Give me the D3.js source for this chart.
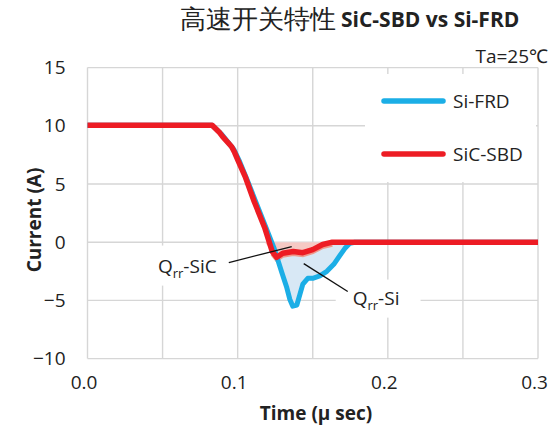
<!DOCTYPE html>
<html>
<head>
<meta charset="utf-8">
<script src="https://cdn.jsdelivr.net/npm/d3@7"></script>
<style>
  html, body { margin: 0; padding: 0; background: #fff; }
  svg { display: block; }
  text { font-family: "Open Sans", "Noto Sans", sans-serif; fill: #222; }
</style>
</head>
<body>
<svg id="chart" width="554" height="431"></svg>
<script>
// ---- data ----
const titleCJK = "高速开关特性";
const titleLatin = "SiC-SBD vs Si-FRD";
const tempLabel = "Ta=25℃";
const seriesNames = ["Si-FRD", "SiC-SBD"];
const xTickValues = [0.0, 0.1, 0.2, 0.3];
const xGridValues = [0, 0.05, 0.1, 0.15, 0.2, 0.25, 0.3];
const yTickValues = [-10, -5, 0, 5, 10, 15];
const xTitle = "Time (μ sec)";
const yTitle = "Current (A)";

// Si-FRD (blue)
const frdTime    = [0, 0.083, 0.0895, 0.0975, 0.1014, 0.1068, 0.1128, 0.1194, 0.1241, 0.1267, 0.1294, 0.1327, 0.1347, 0.1367, 0.1394, 0.1414, 0.1434, 0.1467, 0.150, 0.1547, 0.1594, 0.164, 0.168, 0.1713, 0.1747, 0.178, 0.3];
const frdCurrent = [10.05, 10.05, 9.25, 7.95, 6.9, 5.2, 3.23, 1.08, -0.46, -1.5, -2.6, -3.9, -4.9, -5.5, -5.4, -4.5, -3.6, -3.1, -3.1, -2.9, -2.5, -1.9, -1.15, -0.55, -0.1, 0, 0];
// SiC-SBD (red)
const sbdTime    = [0, 0.083, 0.0881, 0.090, 0.096, 0.098, 0.100, 0.105, 0.111, 0.118, 0.123, 0.126, 0.130, 0.137, 0.1434, 0.150, 0.1566, 0.163, 0.3];
const sbdCurrent = [10.05, 10.05, 9.4, 9.07, 8.2, 7.7, 7.1, 5.64, 3.5, 1.25, -0.8, -1.3, -0.95, -0.8, -0.9, -0.64, -0.2, 0, 0];

// annotations (data units)
const qrrNames = ["SiC", "Si"];
const qrrLabelT = [0.0469, 0.1766];
const qrrLabelV = [-2.61, -5.37];
const qrrLeaderT = [[0.0941, 0.136], [0.144, 0.1733]];
const qrrLeaderV = [[-1.75, -0.38], [-1.84, -4.24]];
const qrrBoxT = [[0.0349, 0.0988], [0.1653, 0.2218]];
const qrrBoxV = [[-0.29, -3.73], [-3.21, -6.48]];

// ---- layout ----
const W = 554, H = 431;
const plot = { left: 87.5, right: 538, top: 67.6, bottom: 358.6 };
const blue = "#1BAEE6", red = "#ED1C24";
const svg = d3.select("#chart");
svg.append("rect").attr("width", W).attr("height", H).attr("fill", "#fff");

const x = d3.scaleLinear().domain([0, 0.3]).range([plot.left, plot.right]);
const y = d3.scaleLinear().domain([-10, 15]).range([plot.bottom, plot.top]);

// gridlines
const grid = svg.append("g").attr("stroke", "#d6d6d6").attr("stroke-width", 1.4);
grid.selectAll("line.h").data(yTickValues).join("line")
  .attr("x1", plot.left).attr("x2", plot.right)
  .attr("y1", d => y(d)).attr("y2", d => y(d));
grid.selectAll("line.v").data(xGridValues).join("line")
  .attr("y1", plot.top).attr("y2", plot.bottom)
  .attr("x1", d => x(d)).attr("x2", d => x(d));

// white label boxes
qrrNames.forEach((n, i) => {
  svg.append("rect")
    .attr("x", x(qrrBoxT[i][0])).attr("width", x(qrrBoxT[i][1]) - x(qrrBoxT[i][0]))
    .attr("y", y(qrrBoxV[i][0])).attr("height", y(qrrBoxV[i][1]) - y(qrrBoxV[i][0]))
    .attr("fill", "#fff");
});
// legend box
svg.append("rect").attr("x", 365).attr("y", 74).attr("width", 171).attr("height", 108).attr("fill", "#fff");

const frd = frdTime.map((t, i) => ({ t, v: frdCurrent[i] }));
const sbd = sbdTime.map((t, i) => ({ t, v: sbdCurrent[i] }));

const area = d3.area().x(d => x(d.t)).y0(y(0)).y1(d => y(Math.min(d.v, 0)));
const line = d3.line().x(d => x(d.t)).y(d => y(d.v));

svg.append("path").datum(frd).attr("d", area).attr("fill", "#D8E8F5");
svg.append("path").datum(sbd).attr("d", area).attr("fill", "#F6C9C4");
// salmon shadow under SiC trough
svg.append("path").datum(sbd.filter(d => d.t >= 0.122 && d.t <= 0.165))
  .attr("d", line).attr("fill", "none").attr("stroke", "#EF998C").attr("stroke-width", 4)
  .attr("transform", "translate(0,2.5)");

svg.append("path").datum(frd).attr("d", line).attr("fill", "none")
  .attr("stroke", blue).attr("stroke-width", 5).attr("stroke-linejoin", "round");
svg.append("path").datum(sbd).attr("d", line).attr("fill", "none")
  .attr("stroke", red).attr("stroke-width", 5.5).attr("stroke-linejoin", "round");

// leader lines
qrrNames.forEach((n, i) => {
  svg.append("line")
    .attr("x1", x(qrrLeaderT[i][0])).attr("y1", y(qrrLeaderV[i][0]))
    .attr("x2", x(qrrLeaderT[i][1])).attr("y2", y(qrrLeaderV[i][1]))
    .attr("stroke", "#111").attr("stroke-width", 1.3);
  const t = svg.append("text").attr("x", x(qrrLabelT[i])).attr("y", y(qrrLabelV[i]))
    .attr("font-size", 19);
  t.append("tspan").text("Q");
  t.append("tspan").attr("font-size", 13).attr("dy", 5).text("rr");
  t.append("tspan").attr("dy", -5).text("-" + n);
});

// axes
const yAxis = svg.append("g").attr("transform", `translate(${plot.left},0)`)
  .call(d3.axisLeft(y).tickValues(yTickValues).tickSize(0).tickPadding(22).tickFormat(d3.format("d")));
yAxis.select(".domain").remove();
yAxis.selectAll("text").attr("font-size", 19).attr("font-family", "Open Sans").attr("fill", "#222");

const xAxis = svg.append("g").attr("transform", `translate(0,${plot.bottom})`)
  .call(d3.axisBottom(x).tickValues(xTickValues).tickSize(0).tickPadding(17).tickFormat(d3.format(".1f")));
xAxis.select(".domain").remove();
xAxis.selectAll("text").attr("font-size", 19).attr("font-family", "Open Sans").attr("fill", "#222").attr("dx", -4);

// axis titles
svg.append("text").attr("transform", "translate(41,220) rotate(-90)")
  .attr("text-anchor", "middle").attr("font-size", 19).attr("font-weight", "bold").text(yTitle);
svg.append("text").attr("x", 316).attr("y", 420)
  .attr("text-anchor", "middle").attr("font-size", 19).attr("font-weight", "bold").text(xTitle);

// title
svg.append("text").attr("x", 180).attr("y", 28)
  .attr("font-family", "Noto Sans CJK SC").attr("font-size", 25.5).text(titleCJK);
svg.append("text").attr("x", 341).attr("y", 27)
  .attr("font-size", 21).attr("font-weight", "bold").text(titleLatin);
svg.append("text").attr("x", 548).attr("y", 63).attr("text-anchor", "end")
  .attr("font-size", 19).text(tempLabel);

// legend
const legColors = [blue, red];
const legY = [101, 154];
seriesNames.forEach((n, i) => {
  svg.append("line").attr("x1", 384).attr("x2", 443).attr("y1", legY[i]).attr("y2", legY[i])
    .attr("stroke", legColors[i]).attr("stroke-width", 5.5).attr("stroke-linecap", "round");
  svg.append("text").attr("x", 453).attr("y", legY[i] + 6.5).attr("font-size", 19).text(n);
});
</script>
</body>
</html>
